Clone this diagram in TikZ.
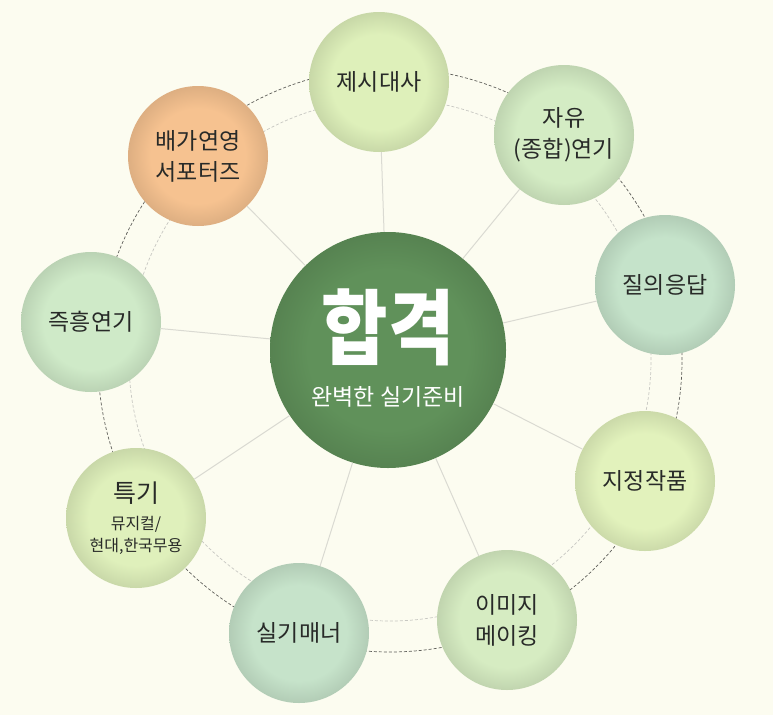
\documentclass[tikz,border=0pt]{standalone}
\usepackage{fontspec}
\setmainfont{Noto Sans CJK KR}

\definecolor{paper}{RGB}{252,252,240}
\definecolor{hubgreen}{RGB}{96,145,90}
\definecolor{linkgray}{RGB}{218,218,210}
\definecolor{ringdark}{RGB}{95,95,90}
\definecolor{ringlight}{RGB}{200,200,194}
\definecolor{inkgray}{RGB}{40,42,40}
\definecolor{leafA}{RGB}{222,240,186}
\definecolor{leafB}{RGB}{212,236,196}
\definecolor{mintA}{RGB}{197,227,202}
\definecolor{leafC}{RGB}{226,242,188}
\definecolor{leafD}{RGB}{214,236,194}
\definecolor{mintB}{RGB}{198,227,202}
\definecolor{leafE}{RGB}{223,240,187}
\definecolor{mintC}{RGB}{207,234,200}
\definecolor{peach}{RGB}{246,194,144}
\colorlet{bubblecol}{leafA}

% flat fill with a slightly darker rim
\pgfdeclareradialshading[bubblecol]{rim}{\pgfpointorigin}{color(0bp)=(bubblecol); color(17bp)=(bubblecol); color(25bp)=(bubblecol!90!black); color(50bp)=(bubblecol!90!black)}

\begin{document}
\begin{tikzpicture}[x=1pt,y=-1pt]
		\tikzset{bubble/.style = {shape=circle, minimum size=140pt, inner sep=0pt, align=center, text=inkgray,
				/utils/exec={\colorlet{bubblecol}{#1}}, shading=rim, font=\fontsize{23}{31}\selectfont}}
		\tikzset{link/.style = {draw=linkgray, line width=1pt}}

		\fill[paper] (0,0) rectangle (773,715);

		% dashed rings behind the bubbles
		\draw[ringdark, line width=0.7pt, dash pattern=on 3pt off 2pt] (390,360) circle (292pt);
		\draw[ringlight, line width=0.7pt, dash pattern=on 3pt off 2pt] (390,360) circle (261pt);

		\node[bubble=hubgreen, minimum size=236pt] (H) at (388,350) {};
		\node[text=white, font=\fontsize{76}{80}\bfseries\selectfont] (H_title) at (388,327) {\scalebox{0.95}[1.08]{합격}};
		\node[text=white, font=\fontsize{23}{28}\selectfont] (H_sub) at (388,397) {완벽한 실기준비};

		\node[bubble=leafA] (A_1) at (379,82) {제시대사};
		\node[bubble=leafB] (A_2) at (564,135) {자유\\(종합)연기};
		\node[bubble=mintA] (A_3) at (665,285) {질의응답};
		\node[bubble=leafC] (A_4) at (645,481) {지정작품};
		\node[bubble=leafD] (A_5) at (507,620) {이미지\\메이킹};
		\node[bubble=mintB] (A_6) at (299,633) {실기매너};
		\node[bubble=leafE, font=\fontsize{16}{22}\selectfont] (A_7) at (136,518) {{\fontsize{25}{30}\selectfont 특기}\\[5pt]뮤지컬/\\현대,한국무용};
		\node[bubble=mintC] (A_8) at (91,322) {즉흥연기};
		\node[bubble=peach] (A_9) at (198,156) {배가연영\\서포터즈};

		\draw[link] (H)--(A_1);
		\draw[link] (H)--(A_2);
		\draw[link] (H)--(A_3);
		\draw[link] (H)--(A_4);
		\draw[link] (H)--(A_5);
		\draw[link] (H)--(A_6);
		\draw[link] (H)--(A_7);
		\draw[link] (H)--(A_8);
		\draw[link] (H)--(A_9);

	\end{tikzpicture}
\end{document}
